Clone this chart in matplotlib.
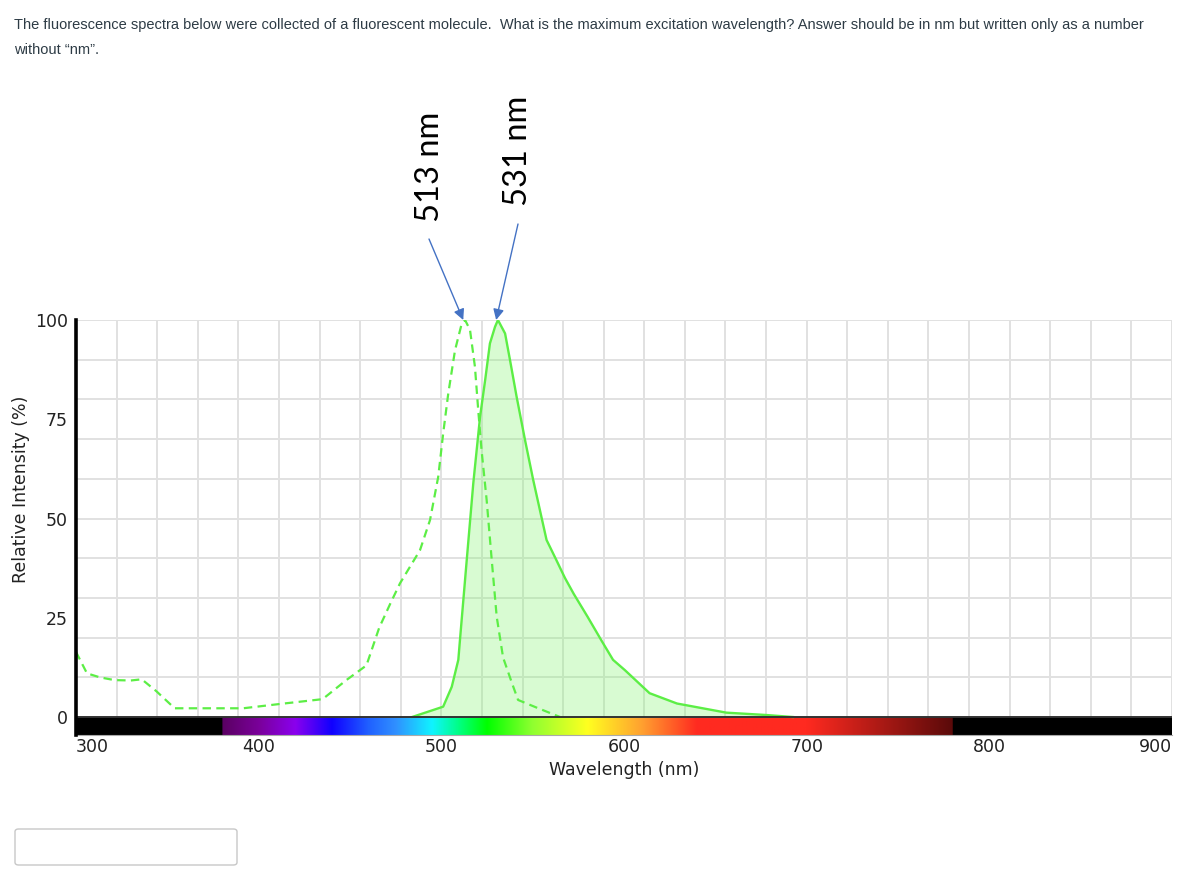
import numpy as np
import matplotlib
matplotlib.use("Agg")
import matplotlib.pyplot as plt
from matplotlib.patches import FancyBboxPatch

# excitation spectrum (dashed)
ex_wl = [300, 306, 313, 321, 330, 336, 344, 354, 368, 391.5, 410, 435, 448, 459,
         466, 472, 477.4, 488.3, 493.8, 498.3, 501, 503.8, 507.5, 511, 513, 515.7,
         518.4, 520.2, 522, 524.8, 527.6, 530.3, 533.8, 538.7, 542, 552, 565]
ex_int = [16.4, 11, 10, 9.3, 9.2, 9.5, 6.5, 2.2, 2.2, 2.2, 3.2, 4.5, 9.3, 13,
          22.5, 28.5, 33.7, 42, 49.6, 60.5, 71.4, 81.5, 92.4, 98.8, 100, 97.5,
          88.2, 77.3, 67.3, 54.7, 39.5, 25.3, 15, 8.5, 4.3, 2.4, 0]

# emission spectrum (solid, filled)
em_wl = [484, 501, 505.7, 509.3, 510.2, 513.9, 517.5, 521.2, 524, 526.6, 529.4,
         531, 534.9, 537.6, 541.2, 545.8, 550.3, 557.6, 563, 567.7, 572.5, 580,
         588, 594, 600.5, 614, 629, 656, 678, 692.5]
em_int = [0, 2.6, 7.6, 14.4, 19.4, 39.5, 58.9, 75.6, 84.9, 94.1, 98.3,
          100, 96.6, 89.9, 80.7, 69.8, 59.7, 44.6, 39.5, 35, 31, 25.3,
          19, 14.4, 11.8, 6, 3.4, 1.1, 0.5, 0]

peak_labels = ["513 nm", "531 nm"]
peak_wl = [513, 531]

x_ticks = [300, 400, 500, 600, 700, 800, 900]
y_ticks = [0, 25, 50, 75, 100]

# visible spectrum bar colour stops
bar_wl = [380, 400, 420, 440, 460, 475, 495, 510, 525, 550, 580, 610, 640, 700, 780]
bar_col = ["#5a0062", "#7a009a", "#8a00ee", "#1000ff", "#2060ff", "#3090ff",
           "#10f4ff", "#00ff80", "#00ff00", "#90ff30", "#ffff20", "#ffa030",
           "#ff2a20", "#ff2a20", "#5a0a0a"]

W, H = 1183, 888
fig = plt.figure(figsize=(W / 100, H / 100), dpi=100)

def fx(px):
    return px / W

def fy(py):
    return 1 - py / H

bar_h = 4.53
ax = fig.add_axes([fx(76), fy(735), (1172 - 76) / W, (735 - 320) / H])
ax.set_xlim(300, 900)
ax.set_ylim(-bar_h, 100)

grid_c = "#e1e1e1"
ax.vlines(np.linspace(300, 900, 28), 0, 100, color=grid_c, lw=1.4, zorder=1)
ax.hlines(np.arange(10, 101, 10), 300, 900, color=grid_c, lw=1.4, zorder=1)

# spectrum bar
wl = np.linspace(300, 900, 1400)
rgb = np.array([matplotlib.colors.to_rgb(c) for c in bar_col])
img = np.zeros((1, wl.size, 3))
inside = (wl >= bar_wl[0]) & (wl <= bar_wl[-1])
for ch in range(3):
    img[0, inside, ch] = np.interp(wl[inside], bar_wl, rgb[:, ch])
ax.imshow(img, extent=(300, 900, -bar_h, 0), aspect="auto",
          interpolation="bilinear", zorder=2)

green = "#5cee45"
ax.fill_between(em_wl, em_int, 0, color="#7ff56a", alpha=0.3, lw=0, zorder=3)
ax.plot(em_wl, em_int, color=green, lw=1.7, zorder=4)
ax.plot(ex_wl, ex_int, color=green, lw=1.6, ls=(0, (3.8, 2.4)), zorder=4)
ax.axhline(0, color="#333333", lw=1.4, zorder=5)

for s in ["top", "right"]:
    ax.spines[s].set_visible(False)
ax.spines["bottom"].set_color("#aaaaaa")
ax.spines["bottom"].set_linewidth(0.8)
ax.spines["left"].set_linewidth(2.6)
ax.spines["left"].set_color("black")
ax.spines["left"].set_zorder(6)

ax.set_xticks(x_ticks)
ax.set_yticks(y_ticks)
ax.tick_params(axis="both", length=0, labelsize=12.5, labelcolor="#222222")
ax.tick_params(axis="x", pad=2)
ax.tick_params(axis="y", pad=6)
xl = ax.get_xticklabels()
xl[0].set_ha("left")
xl[-1].set_ha("right")

ax.set_xlabel("Wavelength (nm)", fontsize=12.5, color="#222222")
ax.xaxis.set_label_coords(0.5, (735 - 761) / 415)
ax.set_ylabel("Relative Intensity (%)", fontsize=12.5, color="#222222")
ax.yaxis.set_label_coords((30 - 76) / 1096, (735 - 489) / 415)

# peak annotations
text_pos = [(430, 167), (518, 151)]
arrow_start = [(429, 239), (518, 224)]
for lab, w, (tx, ty), (sx, sy) in zip(peak_labels, peak_wl, text_pos, arrow_start):
    fig.text(fx(tx), fy(ty), lab, rotation=90, ha="center", va="center",
             fontsize=23.5, family="Lato", color="black")
    ax.annotate("", xy=(w - 1, 100), xytext=(fx(sx), fy(sy)),
                textcoords="figure fraction", annotation_clip=False,
                arrowprops=dict(arrowstyle="-|>", color="#4472c4", lw=1.0,
                                mutation_scale=16, shrinkA=0, shrinkB=0))

# question text
q_font = dict(family="Liberation Sans", fontsize=10.55, color="#2d3b45",
              va="center", ha="left")
fig.text(fx(14), fy(25), "The fluorescence spectra below were collected of a fluorescent "
         "molecule.  What is the maximum excitation wavelength? Answer should be in "
         "nm but written only as a number", **q_font)
fig.text(fx(14), fy(50), "without \u201cnm\u201d.", **q_font)

box = FancyBboxPatch((fx(15), fy(865)), fx(222), (865 - 829) / H,
                     boxstyle="round,pad=0,rounding_size=0.003",
                     transform=fig.transFigure, facecolor="white",
                     edgecolor="#c7c7c7", lw=1.0)
fig.patches.append(box)

fig.savefig("out.png", dpi=100)
